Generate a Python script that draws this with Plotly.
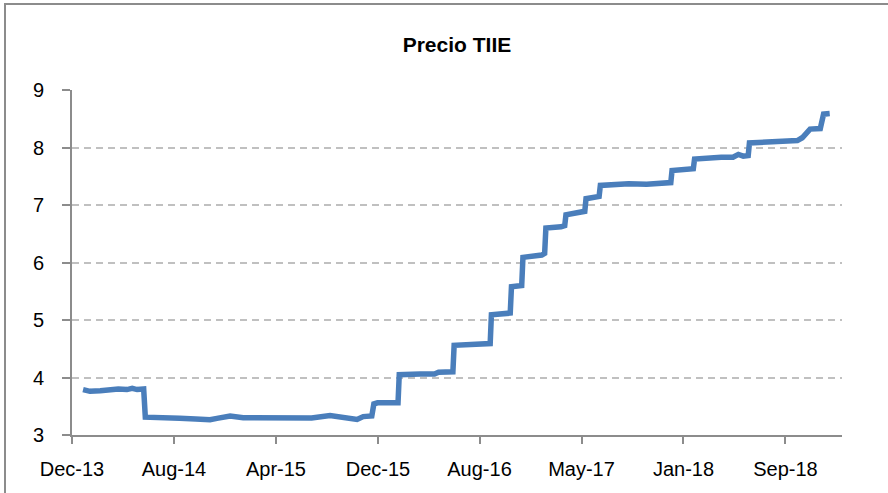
import plotly.graph_objects as go

dates = [
    "2014-01-08", "2014-01-25", "2014-02-19", "2014-03-15", "2014-04-04", "2014-04-25",
    "2014-05-08", "2014-05-20", "2014-06-05", "2014-06-09", "2014-07-01",
    "2014-07-22", "2014-09-01", "2014-10-10", "2014-11-14", "2014-12-01", "2015-01-02",
    "2015-02-03", "2015-04-01", "2015-06-01", "2015-07-20", "2015-09-03", "2015-10-05",
    "2015-11-08", "2015-11-23", "2015-12-10", "2015-12-14", "2015-12-19", "2015-12-28",
    "2016-02-16", "2016-02-19", "2016-04-10", "2016-05-15", "2016-05-25", "2016-06-29",
    "2016-07-02", "2016-08-15", "2016-09-28", "2016-10-01", "2016-11-01", "2016-11-16",
    "2016-11-19", "2016-12-14", "2016-12-17", "2017-01-15", "2017-02-01", "2017-02-08",
    "2017-02-11", "2017-03-20", "2017-03-29", "2017-04-01", "2017-05-01", "2017-05-17",
    "2017-05-20", "2017-06-21", "2017-06-24", "2017-07-20", "2017-09-01", "2017-10-15",
    "2017-11-15", "2017-12-13", "2017-12-16", "2018-01-10", "2018-02-06", "2018-02-09",
    "2018-03-15", "2018-04-15", "2018-05-14", "2018-05-27", "2018-06-08", "2018-06-20",
    "2018-06-23", "2018-08-01", "2018-09-15", "2018-10-18", "2018-10-30", "2018-11-11",
    "2018-11-18", "2018-12-13", "2018-12-21", "2019-01-05",
]
tiie = [
    3.79, 3.76, 3.77, 3.79, 3.80, 3.79,
    3.81, 3.79, 3.80, 3.31, 3.30,
    3.285, 3.29, 3.28, 3.265, 3.29, 3.33,
    3.30, 3.295, 3.30, 3.295, 3.34, 3.30,
    3.27, 3.32, 3.31, 3.33, 3.54, 3.56,
    3.56, 4.05, 4.06, 4.06, 4.09, 4.10,
    4.56, 4.58, 4.59, 5.09, 5.10, 5.12,
    5.58, 5.60, 6.09, 6.11, 6.13, 6.16,
    6.60, 6.62, 6.64, 6.83, 6.86, 6.89,
    7.11, 7.15, 7.34, 7.36, 7.37, 7.36,
    7.38, 7.39, 7.60, 7.62, 7.63, 7.80,
    7.82, 7.83, 7.83, 7.88, 7.85, 7.86,
    8.08, 8.10, 8.11, 8.12, 8.17, 8.29,
    8.32, 8.33, 8.58, 8.59,
]

tick_dates = ["2013-12-12", "2014-08-18", "2015-04-24", "2015-12-29",
              "2016-09-02", "2017-05-09", "2018-01-13", "2018-09-19"]
tick_labels = ["Dec-13", "Aug-14", "Apr-15", "Dec-15", "Aug-16", "May-17", "Jan-18", "Sep-18"]
y_ticks = [3, 4, 5, 6, 7, 8, 9]

FONT = "Liberation Sans, Arial, sans-serif"

fig = go.Figure()
fig.add_trace(go.Scatter(
    x=dates, y=tiie, mode="lines",
    line=dict(color="#4A7EBB", width=5.5),
    hoverinfo="x+y", showlegend=False,
))

fig.update_layout(
    width=888, height=493,
    margin=dict(l=72, r=46, t=90, b=58),
    paper_bgcolor="white", plot_bgcolor="white",
    font=dict(family=FONT, size=20, color="black"),
    title=dict(text="<b>Precio TIIE</b>", x=0.5146, xanchor="center",
               y=0.909, yanchor="middle",
               font=dict(family=FONT, size=21, color="black")),
    showlegend=False,
)

fig.update_xaxes(
    type="date",
    range=["2013-12-12", "2019-02-04"],
    tickvals=tick_dates, ticktext=tick_labels,
    showgrid=False, zeroline=False,
    showline=True, linecolor="#8C8C8C", linewidth=2,
    ticks="outside", ticklen=7, tickcolor="#8C8C8C", tickwidth=1.5,
    tickfont=dict(family=FONT, size=20, color="black"),
    ticklabelstandoff=8,
)
fig.update_yaxes(
    range=[3, 9],
    tickvals=y_ticks,
    showgrid=True, gridcolor="#C0C0C0", gridwidth=1.5, griddash="7px,5px",
    zeroline=False,
    showline=True, linecolor="#8C8C8C", linewidth=2,
    ticks="outside", ticklen=8, tickcolor="#8C8C8C", tickwidth=1.5,
    tickfont=dict(family=FONT, size=20, color="black"),
    ticklabelstandoff=14,
)

# chart frame (only its top and left edges fall inside the picture)
fig.add_shape(type="rect", xref="paper", yref="paper",
              x0=(5 - 72) / 770, x1=(905 - 72) / 770,
              y0=(435 - 510) / 345, y1=(435 - 4) / 345,
              line=dict(color="#8C8C8C", width=2), fillcolor="rgba(0,0,0,0)",
              layer="below")

fig.write_html("out.html", config={"displayModeBar": False},
               post_script="document.body.style.margin='0';")
